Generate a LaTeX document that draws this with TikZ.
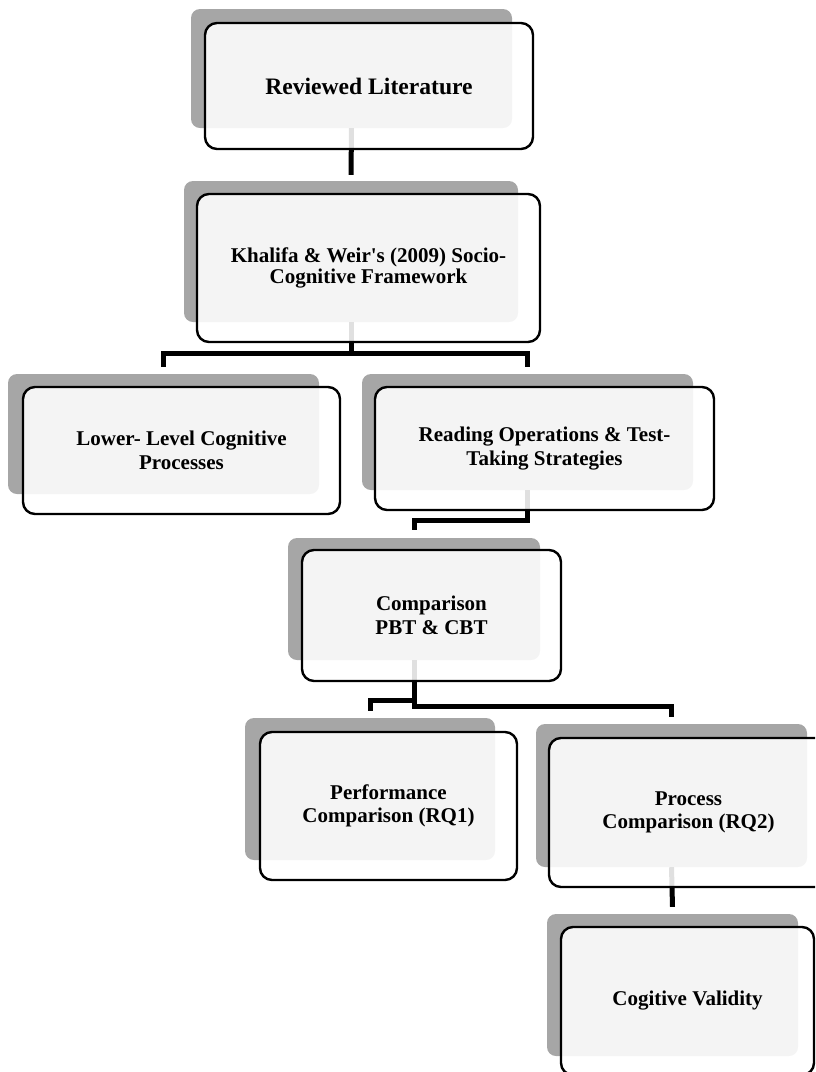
\documentclass[tikz,border=0pt]{standalone}
\usepackage{fontspec}
\setmainfont{Liberation Serif}
\begin{document}
\begin{tikzpicture}[x=1pt,y=-1pt,
  shadowbox/.style={rectangle, rounded corners=9pt, fill=shade, draw=none,
    inner sep=0pt, minimum width=#1},
  frontbox/.style={rectangle, rounded corners=12pt, draw=black, line width=2.4pt,
    fill=white, fill opacity=0.88, text opacity=1, inner sep=0pt,
    align=center, font=\bfseries\fontsize{21}{23.5}\selectfont},
  conn/.style={draw=black, line width=5pt}]
\definecolor{shade}{HTML}{A6A6A6}
\useasboundingbox (0,0) rectangle (815,1072);
\clip (0,0) rectangle (815,1072);

% shadow layer
\node[shadowbox=321pt, minimum height=119pt] (s1) at (351.5,68.5) {};
\node[shadowbox=334pt, minimum height=141pt] (s2) at (351,251.5) {};
\node[shadowbox=311pt, minimum height=120pt] (s3) at (163.5,434) {};
\node[shadowbox=331pt, minimum height=116pt] (s4) at (527.5,432) {};
\node[shadowbox=252pt, minimum height=122pt] (s5) at (414,599) {};
\node[shadowbox=250pt, minimum height=142pt] (s6) at (370,789) {};
\node[shadowbox=271pt, minimum height=143pt] (s7) at (671.5,795.5) {};
\node[shadowbox=251pt, minimum height=142pt] (s8) at (672.5,985) {};

% connectors
\draw[conn] (s1.south) -- ([yshift=6pt]s2.north);
\draw[conn] (s2.south) -- ++(0,31) -| ([yshift=7pt]s3.north);
\draw[conn] (s2.south) -- ++(0,31) -| ([yshift=7pt]s4.north);
\draw[conn] (s4.south) -- ++(0,30) -| ([yshift=8pt]s5.north);
\draw[conn] (s5.south) -- ++(0,40) -| ([yshift=7pt]s6.north);
\draw[conn] (s5.south) -- ++(0,46) -| ([yshift=7pt]s7.north);
\draw[conn] (s7.south) -- ([yshift=7pt]s8.north);

% front layer
\node[frontbox, minimum width=328pt, minimum height=126pt,
  font=\bfseries\fontsize{23.6}{25}\selectfont] (b1) at (369,86) {Reviewed Literature};
\node[frontbox, minimum width=343pt, minimum height=148pt,
  font=\bfseries\fontsize{21}{21.5}\selectfont] (b2) at (368.5,268)
  {Khalifa \& Weir\textquotesingle s (2009) Socio-\\Cognitive Framework};
\node[frontbox, minimum width=317pt, minimum height=127pt] (b3) at (181.5,450.5)
  {Lower- Level Cognitive\\Processes};
\node[frontbox, minimum width=339pt, minimum height=123pt] (b4) at (544.5,448.5)
  {Reading Operations \& Test-\\Taking Strategies};
\node[frontbox, minimum width=259pt, minimum height=131pt] (b5) at (431.5,615.5)
  {Comparison\\PBT \& CBT};
\node[frontbox, minimum width=257pt, minimum height=148pt] (b6) at (388.5,806)
  {Performance\\Comparison (RQ1)};
\node[frontbox, minimum width=279pt, minimum height=149pt] (b7) at (688.5,812.5)
  {Process\\Comparison (RQ2)};
\node[frontbox, minimum width=253pt, minimum height=148pt] (b8) at (687.5,1001)
  {Cogitive Validity};
\end{tikzpicture}
\end{document}
